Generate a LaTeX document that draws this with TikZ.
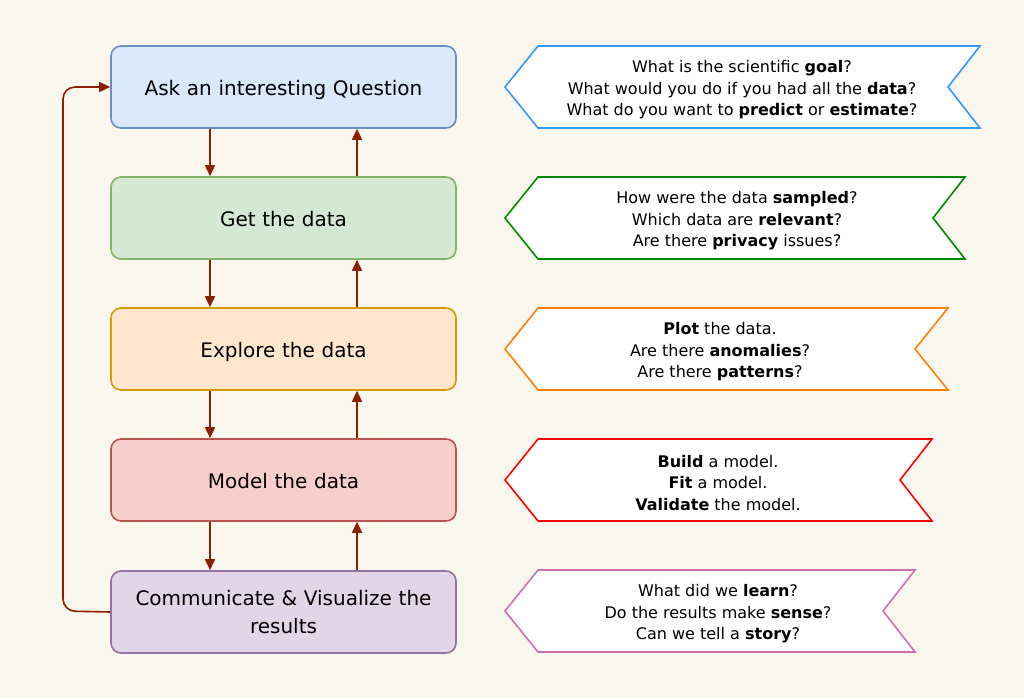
\documentclass[tikz,border=0pt]{standalone}
\usepackage{fontspec}
\setmainfont{DejaVu Sans}
\usetikzlibrary{arrows.meta}
\definecolor{bg}{HTML}{F9F7ED}
\definecolor{arr}{HTML}{8B2000}
\definecolor{f1}{HTML}{DAE8FC}\definecolor{s1}{HTML}{6C8EBF}
\definecolor{f2}{HTML}{D5E8D4}\definecolor{s2}{HTML}{82B366}
\definecolor{f3}{HTML}{FFE6CC}\definecolor{s3}{HTML}{D79B00}
\definecolor{f4}{HTML}{F8CECC}\definecolor{s4}{HTML}{B85450}
\definecolor{f5}{HTML}{E1D5E7}\definecolor{s5}{HTML}{9673A6}
\definecolor{g1}{HTML}{3399FF}
\definecolor{g2}{HTML}{008A00}
\definecolor{g3}{HTML}{FF8000}
\definecolor{g4}{HTML}{FF0000}
\definecolor{g5}{HTML}{CD6FB0}
\begin{document}
\begin{tikzpicture}[x=1pt,y=-1pt,
  stage/.style={draw, line width=1.6pt, rounded corners=10pt, minimum width=345pt, minimum height=82pt, inner sep=0pt, align=center, text width=335pt, font=\fontsize{20}{28}\selectfont},
  oneline/.style={text height=18pt, text depth=1pt},
  flagtext/.style={align=center, font=\fontsize{16}{21.5}\selectfont},
  flagline/.style={line width=1.6pt, fill=white},
  conn/.style={draw=arr, line width=1.6pt, -{Triangle[length=11pt,width=10pt]}}]
\fill[bg] (0,0) rectangle (1024,698);
\useasboundingbox (0,0) rectangle (1024,698);
% stages
\node[stage, oneline, fill=f1, draw=s1] (b1) at (283.5,87) {Ask an interesting Question};
\node[stage, oneline, fill=f2, draw=s2] (b2) at (283.5,218) {Get the data};
\node[stage, oneline, fill=f3, draw=s3] (b3) at (283.5,349) {Explore the data};
\node[stage, oneline, fill=f4, draw=s4] (b4) at (283.5,480) {Model the data};
\node[stage, fill=f5, draw=s5] (b5) at (283.5,612) {Communicate \& Visualize the\\results};
% arrows
\foreach \a/\b in {b1/b2,b2/b3,b3/b4,b4/b5}{
  \draw[conn] ([xshift=-73.5pt]\a.south) -- ([xshift=-73.5pt]\b.north);
  \draw[conn] ([xshift=73.5pt]\b.north) -- ([xshift=73.5pt]\a.south);
}
\coordinate (lb) at (63,611);
\coordinate (lt) at (63,87);
\draw[conn, rounded corners=12pt] (b5.west) -- (lb) -- (lt) -- (b1.west);
% flags
\draw[flagline, draw=g1] (505,87) -- (538,46) -- (980,46) -- (948,87) -- (980,128) -- (538,128) -- cycle;
\draw[flagline, draw=g2] (505,218) -- (538,177) -- (965,177) -- (933,218) -- (965,259) -- (538,259) -- cycle;
\draw[flagline, draw=g3] (505,349) -- (538,308) -- (948,308) -- (915,349) -- (948,390) -- (538,390) -- cycle;
\draw[flagline, draw=g4] (505,480) -- (538,439) -- (932,439) -- (900,480) -- (932,521) -- (538,521) -- cycle;
\draw[flagline, draw=g5] (505,611) -- (538,570) -- (915,570) -- (883,611) -- (915,652) -- (538,652) -- cycle;
\node[flagtext] (t1) at (742,90) {What is the scientific \textbf{goal}?\\What would you do if you had all the \textbf{data}?\\What do you want to \textbf{predict} or \textbf{estimate}?};
\node[flagtext] (t2) at (737,221) {How were the data \textbf{sampled}?\\Which data are \textbf{relevant}?\\Are there \textbf{privacy} issues?};
\node[flagtext] (t3) at (720,352) {\textbf{Plot} the data.\\Are there \textbf{anomalies}?\\Are there \textbf{patterns}?};
\node[flagtext] (t4) at (718,483) {\textbf{Build} a model.\\\textbf{Fit} a model.\\\textbf{Validate} the model.};
\node[flagtext] (t5) at (718,614) {What did we \textbf{learn}?\\Do the results make \textbf{sense}?\\Can we tell a \textbf{story}?};
\end{tikzpicture}
\end{document}
